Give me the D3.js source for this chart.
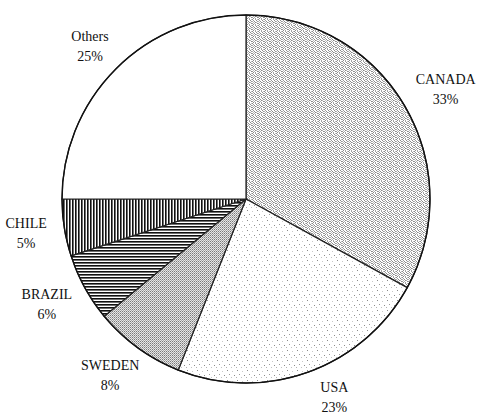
<!DOCTYPE html>
<html>
<head>
<meta charset="utf-8">
<script src="https://cdn.jsdelivr.net/npm/d3@7"></script>
<style>
  html, body { margin: 0; padding: 0; background: #fff; }
  svg { display: block; }
  text { font-family: "Liberation Serif", "Times New Roman", serif; font-size: 14px; fill: #111; }
</style>
</head>
<body>
<svg id="chart" width="480" height="415"></svg>
<script>
// ---- data ----
const categories = ["CANADA", "USA", "SWEDEN", "BRAZIL", "CHILE", "Others"];
const shares = [33, 23, 8, 6, 5, 25];
const percentLabels = ["33%", "23%", "8%", "6%", "5%", "25%"];
const patternIds = ["pCanada", "pUsa", "pSweden", "pBrazil", "pChile", "pOthers"];

const width = 480, height = 415;
const cx = 246, cy = 199, radius = 184, labelRadius = 202;
const lineGap = 20, halfBlockH = 15, edgeMargin = 3;

const svg = d3.select("#chart");
const defs = svg.append("defs");

// helper: pixel tile pattern
function pixelPattern(id, size, bg, pixels) {
  const p = defs.append("pattern").attr("id", id)
    .attr("patternUnits", "userSpaceOnUse")
    .attr("width", size).attr("height", size);
  p.append("rect").attr("width", size).attr("height", size).attr("fill", bg);
  pixels.forEach(([x, y, c]) => {
    p.append("rect").attr("x", x).attr("y", y).attr("width", 1).attr("height", 1)
      .attr("fill", c).attr("shape-rendering", "crispEdges");
  });
}

// CANADA: dense gray stipple
pixelPattern("pCanada", 6, "#ffffff", [
  [0,0,"#8a8a8a"],[3,0,"#a0a0a0"],[5,0,"#bdbdbd"],
  [1,1,"#9a9a9a"],[4,1,"#8a8a8a"],
  [0,2,"#b0b0b0"],[2,2,"#8a8a8a"],[5,2,"#9a9a9a"],
  [1,3,"#bdbdbd"],[3,3,"#8a8a8a"],[4,3,"#b5b5b5"],
  [0,4,"#9a9a9a"],[2,4,"#b0b0b0"],[5,4,"#8a8a8a"],
  [1,5,"#8a8a8a"],[3,5,"#a5a5a5"]
]);
// USA: sparse dots
pixelPattern("pUsa", 10, "#ffffff", [
  [1,1,"#8a8a8a"],[6,2,"#c8c8c8"],[3,5,"#9a9a9a"],[8,6,"#8a8a8a"],
  [5,8,"#c0c0c0"],[0,8,"#b0b0b0"]
]);
// SWEDEN: dense gray mesh
pixelPattern("pSweden", 2, "#e6e6e6", [
  [0,0,"#7a7a7a"],[1,1,"#a8a8a8"]
]);
// BRAZIL: horizontal lines
(function () {
  const p = defs.append("pattern").attr("id", "pBrazil")
    .attr("patternUnits", "userSpaceOnUse").attr("width", 6).attr("height", 3);
  p.append("rect").attr("width", 6).attr("height", 3).attr("fill", "#fff");
  p.append("rect").attr("width", 6).attr("height", 1.6).attr("fill", "#111");
})();
// CHILE: vertical lines
(function () {
  const p = defs.append("pattern").attr("id", "pChile")
    .attr("patternUnits", "userSpaceOnUse").attr("width", 3).attr("height", 6);
  p.append("rect").attr("width", 3).attr("height", 6).attr("fill", "#fff");
  p.append("rect").attr("width", 1.6).attr("height", 6).attr("fill", "#111");
})();
// Others: white
(function () {
  const p = defs.append("pattern").attr("id", "pOthers")
    .attr("patternUnits", "userSpaceOnUse").attr("width", 4).attr("height", 4);
  p.append("rect").attr("width", 4).attr("height", 4).attr("fill", "#fff");
})();

const data = categories.map((c, i) => ({ name: c, value: shares[i], pct: percentLabels[i], pat: patternIds[i] }));

const pie = d3.pie().sort(null).value(d => d.value).startAngle(0).endAngle(2 * Math.PI);
const arcs = pie(data);

const arc = d3.arc().innerRadius(0).outerRadius(radius);

const g = svg.append("g").attr("transform", `translate(${cx},${cy})`);

g.selectAll("path.slice")
  .data(arcs)
  .join("path")
  .attr("class", "slice")
  .attr("d", arc)
  .attr("fill", d => `url(#${d.data.pat})`)
  .attr("stroke", "#222")
  .attr("stroke-width", 1.2)
  .attr("stroke-linejoin", "round");

// outer rim
g.append("circle").attr("r", radius).attr("fill", "none")
  .attr("stroke", "#111").attr("stroke-width", 1.4);

// labels: anchor on a circle just outside the rim, block pushed outward by its half-size;
// if the block would leave the canvas vertically, slide the anchor along the label circle.
const labels = g.selectAll("g.label")
  .data(arcs)
  .join("g")
  .attr("class", "label");

labels.append("text")
  .attr("text-anchor", "middle")
  .attr("y", -halfBlockH + 10)
  .text(d => d.data.name);

labels.append("text")
  .attr("text-anchor", "middle")
  .attr("y", -halfBlockH + 10 + lineGap)
  .text(d => d.data.pct);

const maxCenterY = height - edgeMargin - halfBlockH - cy;
const minCenterY = edgeMargin + halfBlockH - cy;

labels.attr("transform", function (d) {
  const a = (d.startAngle + d.endAngle) / 2;
  const sx = Math.sin(a), sy = -Math.cos(a);
  let w = 0;
  d3.select(this).selectAll("text").each(function () { w = Math.max(w, this.getComputedTextLength()); });
  let ax = sx * labelRadius, ay = sy * labelRadius;
  let y = ay + sy * halfBlockH;
  if (y > maxCenterY || y < minCenterY) {
    y = Math.max(minCenterY, Math.min(maxCenterY, y));
    ay = y - sy * halfBlockH;
    ax = Math.sign(sx) * Math.sqrt(Math.max(0, labelRadius * labelRadius - ay * ay));
  }
  const x = ax + sx * w / 2;
  return `translate(${x},${y})`;
});
</script>
</body>
</html>
